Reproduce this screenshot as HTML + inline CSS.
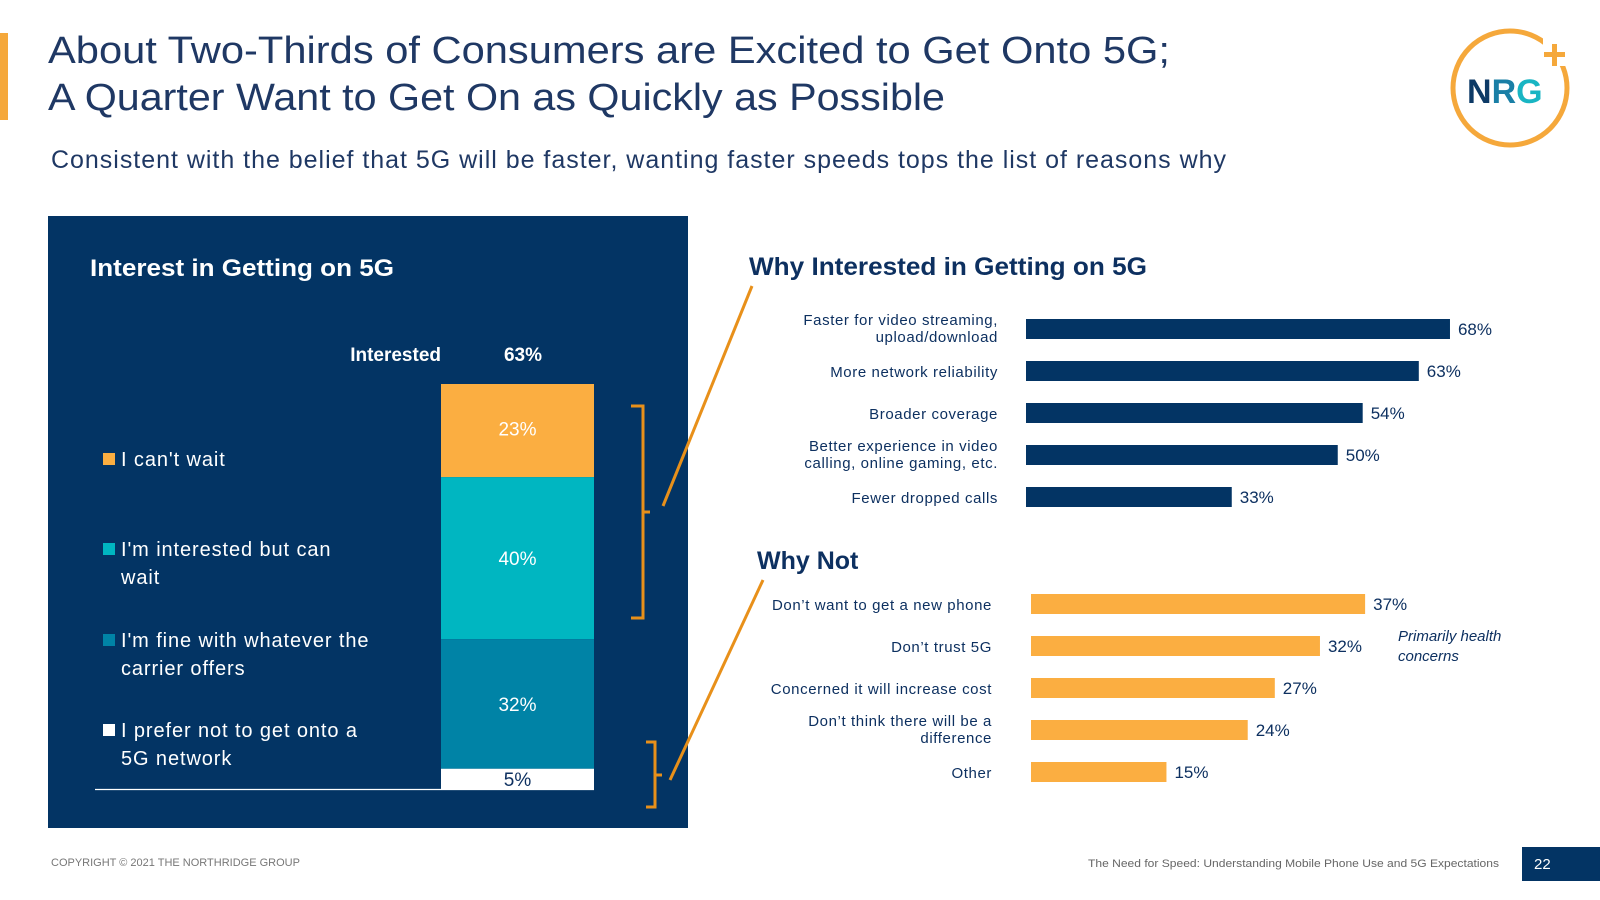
<!DOCTYPE html>
<html><head><meta charset="utf-8">
<style>
body{margin:0;background:#fff;font-family:"Liberation Sans",sans-serif;}
#root{position:relative;width:1600px;height:900px;overflow:hidden;}
svg text{font-family:"Liberation Sans",sans-serif;}
</style></head>
<body>
<div id="root">
<svg id="chart" width="1600" height="900" xmlns="http://www.w3.org/2000/svg">
  <rect x="0" y="33" width="8" height="87" fill="#f5a83b"/>
  <text x="48" y="63" font-size="38" fill="#1f3864" textLength="1122" lengthAdjust="spacingAndGlyphs">About Two-Thirds of Consumers are Excited to Get Onto 5G;</text>
  <text x="48" y="110" font-size="38" fill="#1f3864" textLength="897" lengthAdjust="spacingAndGlyphs">A Quarter Want to Get On as Quickly as Possible</text>
  <text x="51" y="168" font-size="25" fill="#1f3864" textLength="1175">Consistent with the belief that 5G will be faster, wanting faster speeds tops the list of reasons why</text>

  <g>
    <circle cx="1510" cy="88" r="57" fill="none" stroke="#f5a83b" stroke-width="5"/>
    <rect x="1543" y="38" width="24" height="28" fill="#fff"/>
    <rect x="1552" y="44" width="5" height="22" fill="#f5a83b"/>
    <rect x="1544" y="52" width="21" height="5" fill="#f5a83b"/>
    <text x="1467" y="103" font-size="34" font-weight="bold" fill="#0d3a66">N<tspan fill="#1a7fa6">R</tspan><tspan fill="#19b5c3">G</tspan></text>
  </g>

  <rect x="48" y="216" width="640" height="612" fill="#033464"/>
  <text x="90" y="276" font-size="24" font-weight="bold" fill="#fff" textLength="304" lengthAdjust="spacingAndGlyphs">Interest in Getting on 5G</text>
  <text x="441" y="361" font-size="19" font-weight="bold" fill="#fff" text-anchor="end">Interested</text>
  <text x="523" y="361" font-size="19" font-weight="bold" fill="#fff" text-anchor="middle">63%</text>
  <g id="stack"></g>
  <g id="legend"></g>
  <line x1="95" y1="789.5" x2="594" y2="789.5" stroke="#fff" stroke-width="1.2"/>

  <path d="M631 406 H643 V618 H631 M643 512 H650" fill="none" stroke="#e8901a" stroke-width="3"/>
  <path d="M646 742 H655 V807 H646 M655 775 H662" fill="none" stroke="#e8901a" stroke-width="3"/>
  <line x1="663" y1="506" x2="752" y2="286" stroke="#e8901a" stroke-width="3"/>
  <line x1="670" y1="780" x2="763" y2="580" stroke="#e8901a" stroke-width="3"/>

  <text x="749" y="275" font-size="25" font-weight="bold" fill="#0d3060" textLength="398" lengthAdjust="spacingAndGlyphs">Why Interested in Getting on 5G</text>
  <text x="757" y="569" font-size="25" font-weight="bold" fill="#0d3060">Why Not</text>
  <g id="why"></g>
  <g id="whynot"></g>
  <text x="1398" y="641" font-size="15" font-style="italic" fill="#0d3060">Primarily health</text>
  <text x="1398" y="661" font-size="15" font-style="italic" fill="#0d3060">concerns</text>

  <text x="51" y="866" font-size="11" fill="#777">COPYRIGHT © 2021 THE NORTHRIDGE GROUP</text>
  <text x="1499" y="867" font-size="11" fill="#666" text-anchor="end" textLength="411" lengthAdjust="spacingAndGlyphs">The Need for Speed: Understanding Mobile Phone Use and 5G Expectations</text>
  <rect x="1522" y="847" width="78" height="34" fill="#033464"/>
  <text x="1534" y="869" font-size="15" fill="#fff">22</text>
</svg>
</div>
<script>
const stackLabels = ["I can't wait", "I'm interested but can|wait", "I'm fine with whatever the|carrier offers", "I prefer not to get onto a|5G network"];
const stackValues = [23, 40, 32, 5];
const whyCats = ["Faster for video streaming,|upload/download", "More network reliability", "Broader coverage", "Better experience in video|calling, online gaming, etc.", "Fewer dropped calls"];
const whyValues = [68, 63, 54, 50, 33];
const whyNotCats = ["Don’t want to get a new phone", "Don’t trust 5G", "Concerned it will increase cost", "Don’t think there will be a|difference", "Other"];
const whyNotValues = [37, 32, 27, 24, 15];

const NS = "http://www.w3.org/2000/svg";
function mk(tag, attrs, parent){const e=document.createElementNS(NS,tag);for(const k in attrs)e.setAttribute(k,attrs[k]);parent.appendChild(e);return e;}

const stackColors = ["#fbae41", "#00b6c1", "#0083a6", "#ffffff"];
const stackTextColors = ["#fff", "#fff", "#fff", "#0d3060"];
const stackBase = 789, stackScale = 4.05, stackX = 441, stackW = 153;
const yStack = v => stackBase - v * stackScale;
const sg = document.getElementById('stack');
let cum = 100;
stackValues.forEach((v, i) => {
  const top = yStack(cum), bot = yStack(cum - v);
  const r = mk('rect', {x: stackX, y: top, width: stackW, height: bot - top, fill: stackColors[i]}, sg);
  
  
  const t = mk('text', {x: stackX + stackW / 2, y: i === 3 ? bot - 3 : (top + bot) / 2 - (i===0?2:0) + 7, 'font-size': 19, fill: stackTextColors[i], 'text-anchor': 'middle'}, sg);
  t.textContent = v + '%';
  
  
  cum -= v;
});
const lg = document.getElementById('legend');
const legendY = [459, 549, 640, 730];
stackLabels.forEach((lab, i) => {
  const sq = mk('rect', {x: 103, y: legendY[i] - 6, width: 12, height: 12, fill: stackColors[i]}, lg);
  
  
  lab.split('|').forEach((ln, j) => {
    const t = mk('text', {x: 121, y: legendY[i] + 7 + j * 28, 'font-size': 20, fill: '#fff', 'letter-spacing': '0.9'}, lg);
    t.textContent = ln;
    
    
  });
});

function hbars(gid, cats, vals, x0, scale, y0, step, labelX, color, prefix){
  const g = document.getElementById(gid);
  const xs = v => x0 + v * scale;
  cats.forEach((c, i) => {
    const cy = y0 + i * step;
    const r = mk('rect', {x: x0, y: cy - 10, width: xs(vals[i]) - x0, height: 20, fill: color}, g);
    
    
    const t = mk('text', {x: xs(vals[i]) + 8, y: cy + 6, 'font-size': 17, fill: '#0d3060'}, g);
    t.textContent = vals[i] + '%';
    
    
    const lines = c.split('|');
    lines.forEach((ln, j) => {
      const ly = lines.length === 1 ? cy + 6 : cy - 4 + j * 17;
      const l = mk('text', {x: labelX, y: ly, 'font-size': 15, fill: '#0d3060', 'text-anchor': 'end', 'letter-spacing': '0.6'}, g);
      l.textContent = ln;
      
      
    });
  });
}
hbars('why', whyCats, whyValues, 1026, 6.235, 329, 42, 998, '#033464', 'why');
hbars('whynot', whyNotCats, whyNotValues, 1031, 9.03, 604, 42, 992, '#fbae41', 'whynot');
</script>
</body></html>
